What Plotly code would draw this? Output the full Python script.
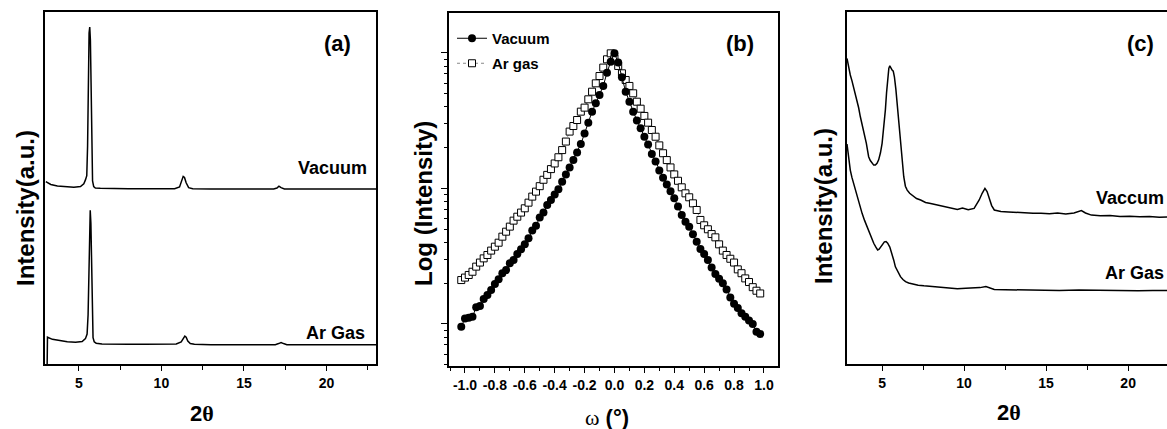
import plotly.graph_objects as go

W, H = 1167, 429

# ---------------- Panel (a): XRD patterns ----------------
a_vac_x = [3.0, 3.3, 3.7, 4.2, 4.7, 5.1, 5.3, 5.4, 5.48, 5.53, 5.58, 5.62, 5.66, 5.7, 5.74, 5.78, 5.83, 5.9, 6.0, 6.3,
           7.0, 8.0, 9.0, 10.0, 10.8, 11.1, 11.22, 11.32, 11.4, 11.5, 11.65, 11.9, 13.0, 14.0, 15.0, 16.0, 16.8, 17.0,
           17.12, 17.25, 17.45, 18.5, 20.0, 21.5, 23.0]
a_vac_y = [51.8, 51.0, 50.6, 50.3, 50.2, 50.4, 51.2, 52.3, 53.5, 62.0, 82.0, 94.0, 95.7, 92.0, 80.0, 62.0, 52.0, 50.4,
           50.0, 49.9, 49.8, 49.8, 49.8, 49.8, 49.8, 50.3, 52.0, 53.3, 53.0, 51.5, 50.1, 49.8, 49.7, 49.7, 49.7, 49.7,
           49.7, 50.0, 50.5, 50.1, 49.7, 49.7, 49.7, 49.7, 49.7]
a_ar_x = [3.08, 3.1, 3.4, 3.8, 4.3, 4.8, 5.2, 5.4, 5.5, 5.56, 5.61, 5.65, 5.69, 5.73, 5.77, 5.81, 5.86, 5.93, 6.05, 6.4,
          7.0, 8.0, 9.0, 10.0, 10.9, 11.2, 11.32, 11.42, 11.5, 11.6, 11.75, 12.0, 13.0, 14.0, 15.0, 16.0, 16.9, 17.1,
          17.25, 17.4, 17.6, 18.5, 20.0, 21.5, 23.0]
a_ar_y = [0.0, 7.6, 7.0, 6.6, 6.3, 6.2, 6.4, 7.2, 8.5, 14.0, 30.0, 41.0, 43.7, 40.0, 28.0, 14.0, 7.5, 6.3, 5.9, 5.7,
          5.6, 5.6, 5.6, 5.6, 5.7, 6.3, 7.4, 7.9, 7.6, 6.5, 5.8, 5.6, 5.5, 5.5, 5.5, 5.5, 5.5, 5.8, 6.1, 5.8, 5.5,
          5.5, 5.5, 5.5, 5.5]

# ---------------- Panel (b): rocking curves ----------------
omega = [-1.025, -1.0, -0.975, -0.95, -0.925, -0.9, -0.875, -0.85, -0.825, -0.8, -0.775, -0.75, -0.725, -0.7,
         -0.675, -0.65, -0.625, -0.6, -0.575, -0.55, -0.525, -0.5, -0.475, -0.45, -0.425, -0.4, -0.375, -0.35,
         -0.325, -0.3, -0.275, -0.25, -0.225, -0.2, -0.175, -0.15, -0.125, -0.1, -0.075, -0.05, -0.025, 0.0,
         0.025, 0.05, 0.075, 0.1, 0.125, 0.15, 0.175, 0.2, 0.225, 0.25, 0.275, 0.3, 0.325, 0.35, 0.375, 0.4,
         0.425, 0.45, 0.475, 0.5, 0.525, 0.55, 0.575, 0.6, 0.625, 0.65, 0.675, 0.7, 0.725, 0.75, 0.775, 0.8,
         0.825, 0.85, 0.875, 0.9, 0.925, 0.95, 0.975]
b_vacuum = [9.56, 11.0, 11.1, 11.3, 13.3, 13.6, 15.3, 16.4, 17.8, 19.7, 21.4, 23.7, 25.0, 28.1, 29.7, 32.9, 35.6,
            38.7, 42.9, 48.9, 53.2, 61.2, 66.4, 75.5, 82.2, 90.1, 98.6, 112, 127, 143, 162, 184, 213, 255, 306, 369,
            425, 490, 571, 716, 863, 994,
            849, 661, 518, 437, 369, 317, 278, 241, 211, 180, 158, 136, 120, 107, 95.3, 84.6, 73.5, 63.7, 56.9,
            52.3, 45.9, 40.5, 35.8, 32.9, 29.7, 26.1, 23.4, 21.6, 20.0, 18.0, 15.7, 14.1, 13.1, 12.0, 11.3, 10.6,
            10.0, 8.78, 8.43]
b_argas = [21.1, 22.0, 23.0, 24.3, 26.5, 28.4, 30.5, 32.3, 34.8, 37.2, 39.8, 44.1, 48.0, 52.3, 57.9, 61.9, 66.4,
           71.4, 78.6, 87.1, 94.8, 104, 116, 126, 139, 153, 170, 192, 222, 263, 289, 320, 369, 395, 455, 518, 597,
           676, 780, 898, 994,
           914, 802, 708, 632, 571, 504, 437, 388, 343, 306, 270, 241, 208, 182, 162, 143, 127, 114, 102, 92.1,
           86.1, 77.7, 69.4, 58.6, 53.5, 50.0, 46.1, 43.6, 38.7, 34.8, 32.3, 30.3, 28.4, 25.3, 23.7, 21.7, 20.4,
           18.7, 17.6, 16.8]
b_tickvals = [-1.0, -0.8, -0.6, -0.4, -0.2, 0.0, 0.2, 0.4, 0.6, 0.8, 1.0]
b_ticktext = ["-1.0", "-0.8", "-0.6", "-0.4", "-0.2", "0.0", "0.2", "0.4", "0.6", "0.8", "1.0"]

# ---------------- Panel (c): XRD patterns ----------------
c_vac_x = [2.86, 2.95, 3.06, 3.16, 3.26, 3.37, 3.47, 3.57, 3.67, 3.77, 3.87, 3.95, 4.04, 4.12, 4.18, 4.28, 4.39,
           4.49, 4.59, 4.69, 4.79, 4.9, 5.0, 5.1, 5.2, 5.27, 5.34, 5.41, 5.47, 5.54, 5.61, 5.68, 5.75, 5.84, 5.92,
           6.02, 6.12, 6.22, 6.32, 6.42, 6.53, 6.68, 6.84, 7.1, 7.35, 7.65, 7.96, 8.27, 8.57, 8.9, 9.25, 9.59, 9.9,
           10.25, 10.61, 10.75, 10.92, 11.1, 11.27, 11.4, 11.53, 11.68, 11.84, 12.05, 12.24, 12.7, 13.2, 13.7,
           14.2, 14.69, 15.2, 15.7, 16.2, 16.7, 16.95, 17.15, 17.4, 17.76, 18.3, 18.9, 19.5, 20.1, 20.7, 21.3,
           21.9, 22.4]
c_vac_y = [86.8, 84.5, 82.1, 80.5, 78.8, 77.0, 75.0, 72.8, 70.3, 68.3, 66.5, 64.8, 62.7, 60.5, 58.9, 57.8, 57.0,
           56.5, 56.5, 57.0, 58.0, 60.0, 62.7, 67.0, 72.2, 77.0, 81.6, 84.0, 84.7, 84.0, 83.5, 83.2, 81.6, 78.0,
           74.1, 68.5, 62.7, 57.5, 53.2, 50.5, 49.4, 48.5, 48.0, 47.0, 46.6, 45.9, 45.6, 45.3, 44.9, 44.5, 44.3,
           43.9, 44.3, 43.8, 44.2, 45.2, 46.6, 48.5, 49.9, 49.0, 47.1, 45.0, 43.75, 43.5, 43.3, 43.2, 43.0, 42.9,
           42.8, 42.8, 42.7, 42.9, 42.6, 42.9, 43.4, 43.6, 42.9, 42.3, 42.1, 42.2, 41.9, 42.0, 41.8, 41.9, 41.7,
           41.8]
c_ar_x = [2.86, 2.96, 3.06, 3.16, 3.26, 3.37, 3.47, 3.62, 3.78, 3.93, 4.08, 4.28, 4.49, 4.62, 4.73, 4.82, 4.9,
          5.02, 5.14, 5.24, 5.34, 5.47, 5.61, 5.71, 5.81, 5.96, 6.12, 6.27, 6.43, 6.62, 6.84, 7.2, 7.55, 8.06, 8.57,
          9.08, 9.59, 10.1, 10.61, 10.97, 11.33, 11.6, 11.84, 12.5, 13.5, 14.69, 15.8, 17.0, 18.2, 19.4, 20.6,
          21.5, 22.4]
c_ar_y = [62.5, 58.5, 55.1, 53.0, 51.3, 49.3, 47.5, 45.0, 42.8, 40.8, 39.0, 36.5, 34.3, 33.2, 32.4, 32.6, 33.1,
          34.0, 34.7, 34.8, 34.3, 33.2, 31.4, 29.5, 27.6, 26.0, 24.8, 24.0, 23.4, 23.0, 22.7, 22.4, 22.2, 22.0,
          21.8, 21.6, 21.4, 21.5, 21.5, 21.7, 22.0, 21.6, 21.2, 21.1, 21.0, 21.0, 20.9, 21.0, 20.9, 20.9, 20.8,
          20.9, 20.9]

SANS = "Liberation Sans"
SERIF = "Liberation Serif"

fig = go.Figure()

line_style = dict(color="black", width=1.5)
fig.add_trace(go.Scatter(x=a_vac_x, y=a_vac_y, mode="lines", line=line_style, showlegend=False,
                         xaxis="x", yaxis="y"))
fig.add_trace(go.Scatter(x=a_ar_x, y=a_ar_y, mode="lines", line=line_style, showlegend=False,
                         xaxis="x", yaxis="y"))

fig.add_trace(go.Scatter(x=omega, y=b_argas, mode="lines+markers", name="Ar gas",
                         line=dict(color="#888888", width=1, dash="dot"),
                         marker=dict(symbol="square", size=7, color="white",
                                     line=dict(color="black", width=1)),
                         xaxis="x2", yaxis="y2", legend="legend2"))
fig.add_trace(go.Scatter(x=omega, y=b_vacuum, mode="lines+markers", name="Vacuum",
                         line=dict(color="black", width=1),
                         marker=dict(symbol="circle", size=8, color="black"),
                         xaxis="x2", yaxis="y2", legend="legend"))

fig.add_trace(go.Scatter(x=c_vac_x, y=c_vac_y, mode="lines", line=line_style, showlegend=False,
                         xaxis="x3", yaxis="y3"))
fig.add_trace(go.Scatter(x=c_ar_x, y=c_ar_y, mode="lines", line=line_style, showlegend=False,
                         xaxis="x3", yaxis="y3"))

tickfont = dict(family=SANS, size=14, color="black", weight="bold")
ydom_ac = [1 - 364 / H, 1 - 12 / H]
ydom_b = [1 - 366 / H, 1 - 13 / H]

base_x = dict(showline=True, linecolor="black", linewidth=1.5, mirror=True, ticks="outside", ticklen=5,
              tickwidth=1.2, tickcolor="black", showgrid=False, zeroline=False, tickfont=tickfont)
base_y = dict(showline=True, linecolor="black", linewidth=1.5, showgrid=False, zeroline=False,
              showticklabels=False)

fig.update_layout(
    width=W, height=H, margin=dict(l=0, r=0, t=0, b=0),
    paper_bgcolor="white", plot_bgcolor="white",
    xaxis=dict(base_x, domain=[45 / W, 376 / W], range=[2.95, 23.0], anchor="y",
               tick0=0, dtick=5,
               minor=dict(ticks="outside", tick0=0, dtick=2.5, ticklen=4, tickcolor="black")),
    yaxis=dict(base_y, domain=ydom_ac, range=[0, 100], anchor="x", mirror=True, ticks=""),
    xaxis2=dict(base_x, domain=[449 / W, 778 / W], range=[-1.107, 1.094], anchor="y2",
                tickvals=b_tickvals, ticktext=b_ticktext,
                minor=dict(ticks="outside", tick0=0, dtick=0.1, ticklen=3, tickcolor="black")),
    yaxis2=dict(base_y, domain=ydom_b, type="log", range=[0.69, 3.295], anchor="x2", mirror=True,
                ticks="outside", ticklen=6, tickwidth=1.2, tickcolor="black", dtick=1,
                minor=dict(ticks="outside", dtick="D1", ticklen=3, tickcolor="black")),
    xaxis3=dict(base_x, domain=[847 / W, 1.0], range=[2.86, 22.37], anchor="y3",
                tick0=0, dtick=5,
                minor=dict(ticks="outside", tick0=0, dtick=2.5, ticklen=4, tickcolor="black")),
    yaxis3=dict(base_y, domain=ydom_ac, range=[0, 100], anchor="x3", mirror=False, ticks=""),
    legend=dict(x=452 / W, y=1 - 22 / H, xanchor="left", yanchor="top", bgcolor="rgba(0,0,0,0)",
                font=dict(family=SANS, size=15, color="black", weight="bold"), itemwidth=30),
    legend2=dict(x=452 / W, y=1 - 47 / H, xanchor="left", yanchor="top", bgcolor="rgba(0,0,0,0)",
                 font=dict(family=SANS, size=15, color="black", weight="bold"), itemwidth=30),
)


def ann(text, px, py, size, xanchor="center", angle=0, family=SANS, weight="bold"):
    fig.add_annotation(text=text, x=px / W, y=1 - py / H, xref="paper", yref="paper",
                       xanchor=xanchor, yanchor="middle", showarrow=False, textangle=angle,
                       font=dict(family=family, size=size, color="black", weight=weight))


ann("(a)", 337, 43, 22)
ann("(b)", 740, 43, 22)
ann("(c)", 1140, 43, 22)
ann("Vacuum", 332, 168, 18)
ann("Ar Gas", 335, 333, 18)
ann("Vaccum", 1166, 198, 18, xanchor="right")
ann("Ar Gas", 1166, 273, 18, xanchor="right")
ann("Intensity(a.u.)", 25, 208, 24, angle=-90)
ann("Intensity(a.u.)", 824, 206, 24, angle=-90)
ann("Log (Intensity)", 423, 203, 24, angle=-90)
theta = "2<span style='font-family:Liberation Serif'>θ</span>"
ann(theta, 202, 413, 22)
ann(theta, 1009, 412, 22)
ann("<span style='font-family:Liberation Serif;font-weight:normal'>ω</span> (°)", 607, 417, 22)

fig.write_html("out.html", config={"displayModeBar": False},
               post_script="document.body.style.margin='0';document.body.style.overflow='hidden';")
